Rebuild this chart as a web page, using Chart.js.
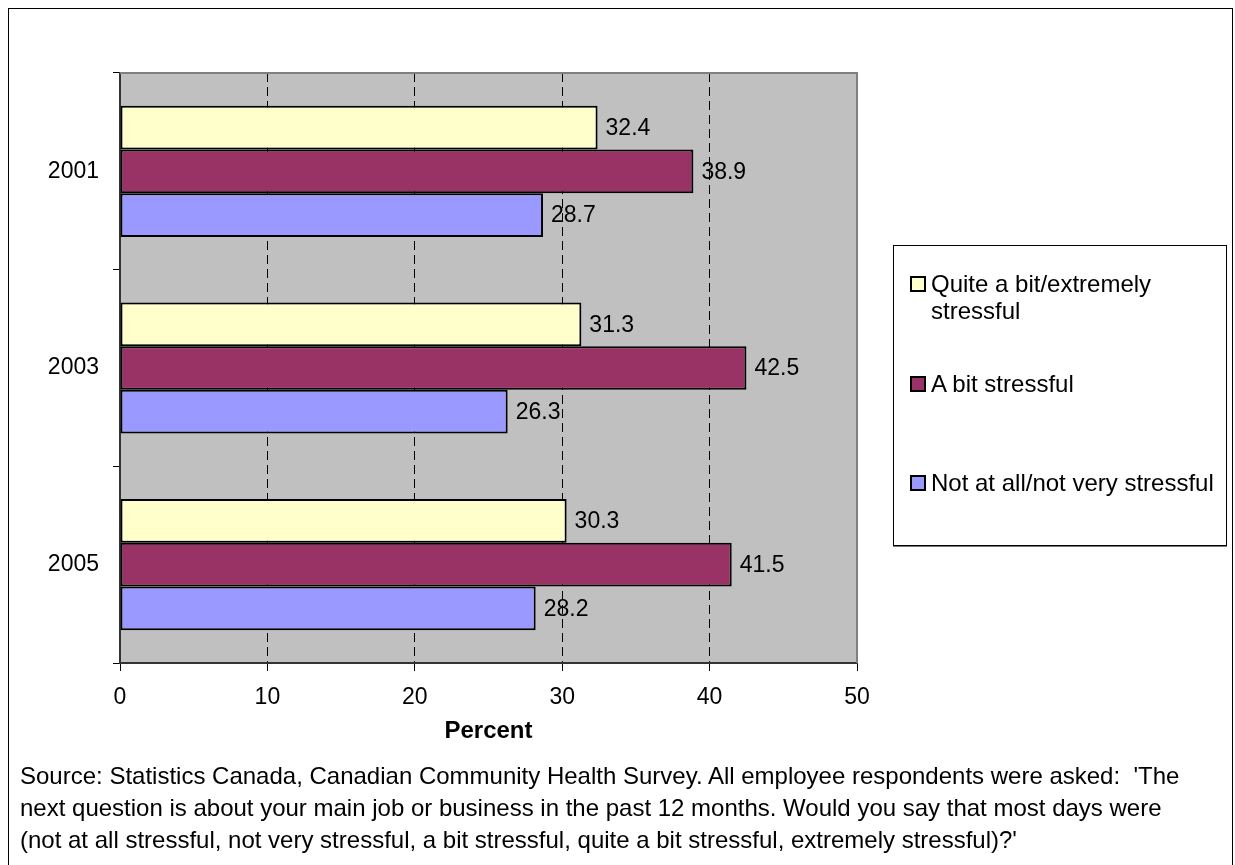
<!DOCTYPE html>
<html lang="en">
<head>
<meta charset="utf-8">
<title>Work stress, 2001 to 2005</title>
<script src="https://cdn.jsdelivr.net/npm/chart.js@4.4.1/dist/chart.umd.min.js"></script>
<style>
  html, body { margin: 0; padding: 0; background: #fff; overflow: hidden; }
  body { width: 1235px; height: 865px; position: relative; font-family: Arial, "Liberation Sans", sans-serif; color: #000; }
  #frame { position: absolute; left: 8px; top: 8px; width: 1225px; height: 900px; border: 1px solid #000; box-sizing: border-box; }
  #wrap { position: absolute; left: 0; top: 0; width: 1235px; height: 865px; }
  #legend { position: absolute; left: 893px; top: 245px; width: 334px; height: 301px; border: 1px solid #000; box-sizing: border-box; background: #fff; box-shadow: 0 1px 0 #777; }
  .item { position: absolute; left: 16px; font-size: 24px; line-height: 27px; display: flex; align-items: flex-start; }
  .swatch { width: 12px; height: 12px; border: 2px solid #000; margin: 6px 5px 0 0; flex: none; }
  .item span.txt { width: 296px; }
  #note { position: absolute; left: 20px; top: 760px; font-size: 24px; line-height: 32px; white-space: pre; }
</style>
</head>
<body>
<div id="frame"></div>
<div id="wrap"><canvas id="chart"></canvas></div>
<div id="legend"></div>
<div id="note"></div>
<script>
(() => {
  'use strict';
  const YEARS = ['2001', '2003', '2005'];
  const SERIES_NAMES = ['Quite a bit/extremely stressful', 'A bit stressful', 'Not at all/not very stressful'];
  const QUITE_A_BIT = [32.4, 31.3, 30.3];
  const A_BIT = [38.9, 42.5, 41.5];
  const NOT_VERY = [28.7, 26.3, 28.2];
  const X_TICKS = [0, 10, 20, 30, 40, 50];
  const SOURCE_LINES = [
    "Source: Statistics Canada, Canadian Community Health Survey. All employee respondents were asked:  'The",
    'next question is about your main job or business in the past 12 months. Would you say that most days were',
    "(not at all stressful, not very stressful, a bit stressful, quite a bit stressful, extremely stressful)?'"
  ];

  const COLORS = ['#FFFFCC', '#993366', '#9999FF'];
  const FONT = 'Arial, "Liberation Sans", sans-serif';
  const LEGEND_TOPS = [24, 124, 223];
  const $ = id => document.getElementById(id);

  // gray plot background and the lighter top/right edge of the plot
  const plotFrame = {
    id: 'plotFrame',
    beforeDraw(chart) {
      const { ctx, chartArea: a } = chart;
      ctx.save();
      ctx.fillStyle = '#C0C0C0';
      ctx.fillRect(a.left, a.top, a.right - a.left, a.bottom - a.top);
      ctx.restore();
    },
    afterDraw(chart) {
      const { ctx, chartArea: a } = chart;
      ctx.save();
      ctx.strokeStyle = '#808080';
      ctx.lineWidth = 2;
      ctx.beginPath();
      ctx.moveTo(a.left, a.top);
      ctx.lineTo(a.right, a.top);
      ctx.lineTo(a.right, a.bottom);
      ctx.stroke();
      ctx.restore();
    }
  };

  // value printed just past the end of each bar
  const valueLabels = {
    id: 'valueLabels',
    afterDatasetsDraw(chart) {
      const { ctx } = chart;
      ctx.save();
      ctx.font = `23px ${FONT}`;
      ctx.fillStyle = '#000';
      ctx.textAlign = 'left';
      ctx.textBaseline = 'middle';
      chart.data.datasets.forEach((ds, i) => {
        chart.getDatasetMeta(i).data.forEach((bar, j) => {
          ctx.fillText(ds.data[j].toFixed(1), bar.x + 8, bar.y + 1);
        });
      });
      ctx.restore();
    }
  };

  const edgeTick = v => v === 0 || v === X_TICKS.at(-1);

  new Chart($('chart'), {
    type: 'bar',
    data: {
      labels: YEARS,
      datasets: [QUITE_A_BIT, A_BIT, NOT_VERY].map((data, i) => ({
        label: SERIES_NAMES[i], data,
        backgroundColor: COLORS[i], borderColor: '#000', borderWidth: 2, borderSkipped: false,
        categoryPercentage: 0.667, barPercentage: 1
      }))
    },
    options: {
      indexAxis: 'y',
      responsive: true, maintainAspectRatio: false, animation: false,
      layout: { padding: { left: 0, top: 73, right: 378, bottom: 119 } },
      plugins: { legend: { display: false }, tooltip: { enabled: false } },
      scales: {
        x: {
          min: 0, max: 50,
          afterBuildTicks: scale => { scale.ticks = X_TICKS.map(value => ({ value })); },
          afterFit: scale => { scale.height = 83; },
          grid: { color: ctx => edgeTick(ctx.tick?.value) ? 'rgba(0,0,0,0)' : '#000', lineWidth: 1, tickColor: '#000', tickLength: 8, tickWidth: 1 },
          border: { color: '#333', width: 2, dash: [9, 5] },
          ticks: { color: '#000', padding: 13, maxRotation: 0, font: { family: FONT, size: 23 } },
          title: { display: true, text: 'Percent', color: '#000', padding: 0, font: { family: FONT, size: 24, weight: 'bold' } }
        },
        y: {
          afterFit: scale => { scale.width = 120; },
          grid: { offset: true, drawOnChartArea: false, color: '#000', tickLength: 7, tickWidth: 1 },
          border: { color: '#333', width: 2 },
          ticks: { color: '#000', padding: 14, font: { family: FONT, size: 23 } }
        }
      }
    },
    plugins: [plotFrame, valueLabels]
  });

  $('legend').innerHTML = SERIES_NAMES.map((name, i) =>
    `<div class="item" style="top:${LEGEND_TOPS[i]}px"><span class="swatch" style="background:${COLORS[i]}"></span><span class="txt">${name}</span></div>`
  ).join('');
  $('note').textContent = SOURCE_LINES.join('\n');
})();
</script>
</body>
</html>
